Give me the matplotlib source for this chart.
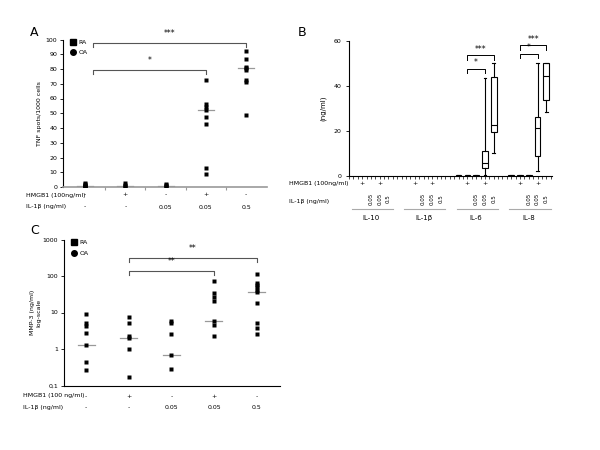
import numpy as np
import matplotlib.pyplot as plt
from matplotlib.transforms import blended_transform_factory as blend

# ---- panel A: TNF spots / 1000 cells
a_points = [
    [2.5, 2.0, 1.5, 1.0, 0.5, 0.3, 0.0],
    [2.8, 1.2, 0.8, 0.3],
    [2.3, 1.5, 0.8, 0.3],
    [72.5, 56, 54.5, 52.5, 47.5, 42.5, 13, 8.5],
    [92, 87, 81.5, 80.5, 79, 72.5, 71.5, 49],
]
a_medians = [1, 1, 1, 52.5, 80.5]
hmgb1_row = ["-", "+", "-", "+", "-"]
il1b_row = ["-", "-", "0.05", "0.05", "0.5"]
a_brackets = [(0.2, 3, 79, 76.5, "*"), (0.2, 4, 97.3, 94.6, "***")]

# ---- panel B: cytokines (ng/ml), box stats per group/condition
b_cytokines = ["IL-10", "IL-1β", "IL-6", "IL-8"]
b_hmgb1 = ["", "+", "", "+", ""]
b_il1b = ["", "", "0.05", "0.05", "0.5"]
b_group = [2, 2, 2, 2, 2, 3, 3, 3, 3, 3]
b_cond = [0, 1, 2, 3, 4, 0, 1, 2, 3, 4]
b_low = [0, 0, 0, 0.4, 10.4, 0, 0, 0, 2.1, 28.6]
b_q1 = [0, 0, 0, 3.7, 19.6, 0, 0, 0, 9.0, 33.9]
b_med = [0.1, 0.1, 0.1, 5.9, 22.8, 0.1, 0.1, 0.1, 21.2, 44.4]
b_q3 = [0.3, 0.3, 0.3, 11.0, 43.9, 0.3, 0.3, 0.3, 26.4, 50.2]
b_high = [0.3, 0.3, 0.3, 43.7, 50.2, 0.3, 0.3, 0.3, 50.2, 50.2]
b_brackets = [(13, 15, 47.7, 45.9, "*"), (13, 16, 53.6, 51.7, "***"),
              (19, 21, 54.4, 52.4, "*"), (19, 22, 58.1, 56.1, "***")]

# ---- panel C: MMP-3 (ng/ml), log scale
c_points = [
    [9.1, 5.0, 4.3, 2.8, 1.25, 0.45, 0.27],
    [7.4, 5.1, 2.3, 1.98, 0.98, 0.176],
    [6.0, 5.3, 2.5, 0.67, 0.29],
    [74, 34, 26, 21, 5.9, 4.6, 2.3],
    [110, 65, 56, 49, 41, 37, 18.5, 5.1, 3.8, 2.6],
]
c_medians = [1.25, 1.98, 0.67, 5.9, 37]
c_brackets = [(1, 3, 136, 106, "**"), (1, 4, 315, 245, "**")]

fs = 4.5
fig = plt.figure(figsize=(6, 4.5), dpi=100)


def dot_panel(ax, points, medians, brackets, logy=False):
    for i, vals in enumerate(points):
        ax.plot([i] * len(vals), vals, "s", color="black", ms=2.2, mec="none", zorder=3)
        ax.plot([i - 0.2, i + 0.2], [medians[i], medians[i]], color="#999999", lw=0.9, zorder=2)
    for x0, x1, top, end, lab in brackets:
        ax.plot([x0, x0, x1, x1], [end, top, top, end], color="#555555", lw=0.8, clip_on=False)
        if logy:
            ty = top * 1.35
        else:
            ty = top + 4
        ax.text((x0 + x1) / 2, ty, lab, ha="center", va="bottom", fontsize=fs + 1, clip_on=False)
    ax.spines["top"].set_visible(False)
    ax.spines["right"].set_visible(False)
    ax.set_xticks([0.5, 1.5, 2.5, 3.5])
    ax.set_xticklabels([])
    ax.tick_params(axis="x", length=2, color="#999999")
    ax.tick_params(axis="y", labelsize=fs, length=2, width=0.6, pad=2)
    tr = blend(ax.transData, ax.transAxes)
    return tr


def legend_marks(ax, y1, y2):
    ax.plot([0.05], [y1], "s", color="black", ms=4, transform=ax.transAxes, clip_on=False)
    ax.plot([0.05], [y2], "o", color="black", ms=4, transform=ax.transAxes, clip_on=False)
    ax.text(0.075, y1, "RA", fontsize=fs, va="center", transform=ax.transAxes)
    ax.text(0.075, y2, "OA", fontsize=fs, va="center", transform=ax.transAxes)


# ---------- A
axA = fig.add_axes([63 / 600, 1 - 187 / 450, 204 / 600, 147.5 / 450])
trA = dot_panel(axA, a_points, a_medians, a_brackets)
axA.set_xlim(-0.55, 4.52)
axA.set_ylim(0, 100)
axA.set_yticks(np.arange(0, 101, 10))
axA.spines["bottom"].set_color("#999999")
axA.spines["bottom"].set_linewidth(1.2)
axA.spines["left"].set_linewidth(0.8)
axA.set_ylabel("TNF spots/1000 cells", fontsize=fs, labelpad=3)
legend_marks(axA, 0.98, 0.915)
for i in range(5):
    axA.text(i, -0.054, hmgb1_row[i], transform=trA, ha="center", va="center", fontsize=fs)
    axA.text(i, -0.136, il1b_row[i], transform=trA, ha="center", va="center", fontsize=fs)
fig.text(26 / 600, 1 - 195 / 450, "HMGB1 (100ng/ml)", fontsize=fs, va="center")
fig.text(26 / 600, 1 - 207 / 450, "IL-1β (ng/ml)", fontsize=fs, va="center")
fig.text(30 / 600, 1 - 33 / 450, "A", fontsize=9, va="center")

# ---------- B
axB = fig.add_axes([349 / 600, 1 - 176 / 450, 203 / 600, 135 / 450])
stats = []
pos = []
for k in range(len(b_group)):
    stats.append(dict(whislo=b_low[k], q1=b_q1[k], med=b_med[k], q3=b_q3[k],
                      whishi=b_high[k], fliers=[]))
    pos.append(b_group[k] * 6 + b_cond[k])
axB.bxp(stats, positions=pos, widths=0.65, capwidths=0.3, showfliers=False,
        patch_artist=True,
        boxprops=dict(facecolor="white", edgecolor="black", linewidth=0.8),
        medianprops=dict(color="black", linewidth=0.8),
        whiskerprops=dict(color="black", linewidth=0.8),
        capprops=dict(color="black", linewidth=0.8), manage_ticks=False)
for x0, x1, top, end, lab in b_brackets:
    axB.plot([x0, x0, x1, x1], [end, top, top, end], color="black", lw=0.7, clip_on=False)
    axB.text((x0 + x1) / 2, top + 0.6, lab, ha="center", va="bottom", fontsize=fs + 1)
axB.set_xlim(-0.5, 22.65)
axB.set_ylim(0, 60)
axB.set_yticks([0, 20, 40, 60])
axB.set_xticks(np.arange(-0.5, 22.7, 0.5))
axB.set_xticklabels([])
axB.spines["top"].set_visible(False)
axB.spines["right"].set_visible(False)
axB.tick_params(axis="x", length=2, width=0.5)
axB.tick_params(axis="y", labelsize=fs, length=2, width=0.6)
axB.set_ylabel("(ng/ml)", fontsize=fs + 0.5, labelpad=5)
trB = blend(axB.transData, axB.transAxes)
for g, name in enumerate(b_cytokines):
    for c in range(5):
        x = g * 6 + c
        if b_hmgb1[c]:
            axB.text(x, -0.059, b_hmgb1[c], transform=trB, ha="center", va="center", fontsize=fs)
        if b_il1b[c]:
            axB.text(x, -0.17, b_il1b[c], transform=trB, ha="center", va="center",
                     fontsize=fs - 0.5, rotation=90)
    axB.plot([g * 6 - 0.2, g * 6 + 4.5], [-0.244, -0.244], color="#aaaaaa", lw=0.8,
             transform=trB, clip_on=False)
    axB.text(g * 6 + 2, -0.311, name, transform=trB, ha="center", va="center", fontsize=fs + 0.5)
fig.text(289 / 600, 1 - 184 / 450, "HMGB1 (100ng/ml)", fontsize=fs, va="center")
fig.text(289 / 600, 1 - 201 / 450, "IL-1β (ng/ml)", fontsize=fs, va="center")
fig.text(298 / 600, 1 - 33 / 450, "B", fontsize=9, va="center")

# ---------- C
axC = fig.add_axes([63.5 / 600, 1 - 385.5 / 450, 216.5 / 600, 146 / 450])
axC.set_yscale("log")
trC = dot_panel(axC, c_points, c_medians, c_brackets, logy=True)
axC.set_xlim(-0.53, 4.55)
axC.set_ylim(0.1, 1000)
axC.set_yticks([0.1, 1, 10, 100, 1000])
axC.set_yticklabels(["0,1", "1", "10", "100", "1000"])
axC.minorticks_off()
axC.set_xticks([0.5, 1.5, 2.5, 3.5])
axC.tick_params(axis="x", length=0)
axC.spines["bottom"].set_linewidth(0.8)
axC.spines["left"].set_linewidth(0.8)
axC.set_ylabel("MMP-3 (ng/ml)\nlog-scale", fontsize=fs, labelpad=1)
legend_marks(axC, 0.98, 0.905)
for i in range(5):
    axC.text(i, -0.074, hmgb1_row[i], transform=trC, ha="center", va="center", fontsize=fs)
    axC.text(i, -0.15, il1b_row[i], transform=trC, ha="center", va="center", fontsize=fs)
fig.text(23 / 600, 1 - 396 / 450, "HMGB1 (100 ng/ml)", fontsize=fs, va="center")
fig.text(23 / 600, 1 - 407.5 / 450, "IL-1β (ng/ml)", fontsize=fs, va="center")
fig.text(30 / 600, 1 - 231 / 450, "C", fontsize=9, va="center")

plt.savefig("out.png", dpi=100)
